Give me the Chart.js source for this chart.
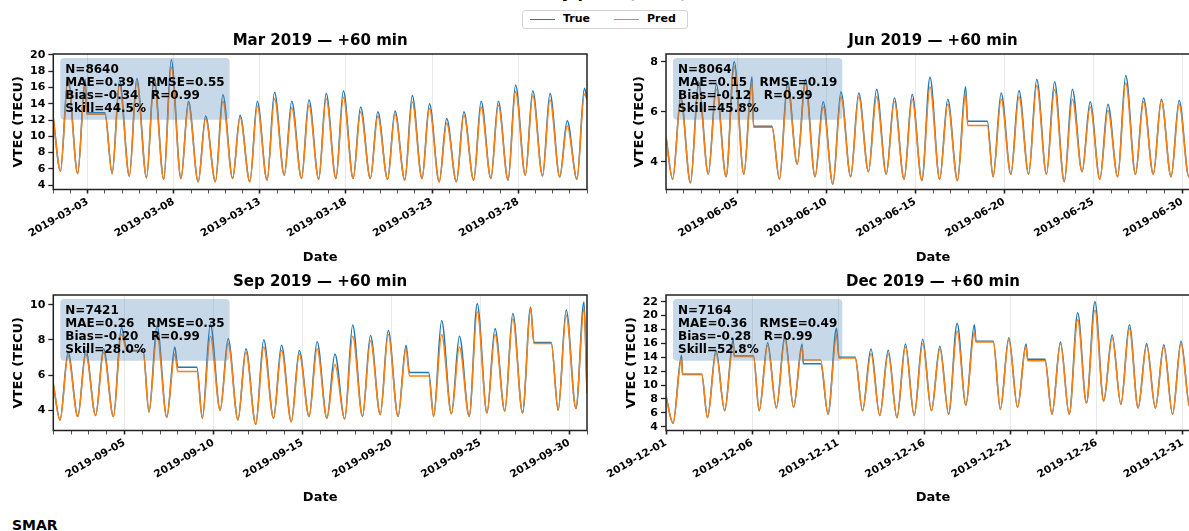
<!DOCTYPE html>
<html lang="en">
<head>
<meta charset="UTF-8">
<title>VTEC monthly plots</title>
<script src="https://cdn.jsdelivr.net/npm/chart.js"></script>
<style>
    html, body { margin: 0; padding: 0; background: #fff; }
    body { width: 1189px; height: 531px; overflow: hidden; position: relative;
           font-family: "DejaVu Sans", sans-serif; font-weight: bold; color: #000; }
    canvas { position: absolute; }
    #suptitle { position: absolute; left: 0; width: 1210px; top: -15px; text-align: center;
                font-size: 16px; line-height: 16px; white-space: nowrap; }
    #legend { position: absolute; left: 522px; top: 10px; width: 164px; height: 17px;
              border: 1px solid #d4d4d4; border-radius: 3px; background: #fff; font-size: 11px; }
    #legend span { position: absolute; top: 1px; }
    #legend i { position: absolute; top: 8px; width: 25px; height: 0; border-top: 1.6px solid; }
    #station { position: absolute; left: 12px; top: 518px; font-size: 14px; line-height: 14px; }
</style>
</head>
<body>
<div id="suptitle">VTEC forecast — Monthly plots (2019) — Horizon +60 min</div>
<div id="legend">
    <i style="left:7px;border-color:#1f77b4"></i><span style="left:40px">True</span>
    <i style="left:91px;border-color:#ff7f0e"></i><span style="left:124px">Pred</span>
</div>
<canvas id="cMar" width="600" height="241" style="left:0;top:28px"></canvas>
<canvas id="cJun" width="613" height="241" style="left:600px;top:28px"></canvas>
<canvas id="cSep" width="600" height="241" style="left:0;top:269px"></canvas>
<canvas id="cDec" width="613" height="241" style="left:600px;top:269px"></canvas>
<div id="station">SMAR</div>

<script>
    // ---- Mars 2019 : creux / pics journaliers (TECU) ----
    const marTrough   = [5.7, 5.4, null, 5.4, 5.1, 4.9, 4.7, 4.8, 4.4, 4.4, 4.8, 4.4, 4.6, 5.2, 4.8, 4.7, 4.8, 4.8, 4.8, 4.7, 4.6, 4.8, 4.4, 4.4, 4.6, 4.8, 4.6, 5.2, 5.1, 5.0, 4.7];
    const marPeakTrue = [17.3, 17.0, null, 16.9, 17.1, 17.3, 19.4, 14.3, 12.5, 15.1, 12.6, 14.3, 15.4, 14.3, 14.5, 15.3, 15.6, 13.6, 13.0, 13.1, 15.0, 14.0, 12.2, 13.0, 14.3, 14.3, 16.3, 15.6, 15.3, 11.9, 15.9];
    const marPeakPred = [16.8, 16.5, null, 16.3, 16.6, 16.7, 18.5, 14.0, 12.2, 14.3, 12.3, 13.7, 14.6, 13.5, 13.8, 14.6, 14.8, 13.0, 12.5, 12.7, 14.2, 13.4, 11.6, 12.6, 13.6, 13.8, 15.5, 15.0, 14.5, 11.3, 15.2];
    const marFlats = [[1.95, 3.0, 12.9, 12.7]];       // [debut, fin, true, pred]
    const marEnds = [12.2, 14.5];                     // valeur au debut / a la fin
    const marYTicks = [4, 6, 8, 10, 12, 14, 16, 18, 20];
    const marXTickDays = [2, 7, 12, 17, 22, 27];
    const marXTickLabels = ['2019-03-03', '2019-03-08', '2019-03-13', '2019-03-18', '2019-03-23', '2019-03-28'];
    const marStats = ['N=8640', 'MAE=0.39   RMSE=0.55', 'Bias=-0.34   R=0.99', 'Skill=44.5%'];

    // ---- Juin 2019 ----
    const junTrough   = [3.3, 3.15, 3.5, 3.4, 3.5, null, 3.3, 3.9, 3.4, 3.1, 3.4, 3.6, 3.5, 3.3, 3.25, 3.3, 3.25, null, 3.4, 3.5, 3.5, 3.5, 3.2, 3.6, 3.3, 3.4, 3.5, 3.5, 3.4, 3.4];
    const junPeakTrue = [6.6, 7.2, 7.1, 8.0, 7.4, null, 7.2, 7.3, 6.4, 6.8, 6.75, 6.9, 6.55, 6.7, 7.38, 6.5, 7.0, null, 6.75, 6.85, 7.3, 7.2, 6.9, 6.4, 6.3, 7.45, 6.55, 6.5, 6.45, 6.5];
    const junPeakPred = [6.5, 7.0, 6.9, 7.8, 7.2, null, 7.0, 7.1, 6.2, 6.6, 6.6, 6.6, 6.4, 6.5, 7.0, 6.3, 6.7, null, 6.5, 6.6, 7.05, 6.9, 6.5, 6.2, 6.05, 7.15, 6.4, 6.45, 6.3, 6.3];
    const junFlats = [[4.92, 5.95, 5.42, 5.38], [16.95, 18.05, 5.62, 5.45]];
    const junEnds = [5.0, 4.4];
    const junYTicks = [4, 6, 8];
    const junXTickDays = [4, 9, 14, 19, 24, 29];
    const junXTickLabels = ['2019-06-05', '2019-06-10', '2019-06-15', '2019-06-20', '2019-06-25', '2019-06-30'];
    const junStats = ['N=8064', 'MAE=0.15   RMSE=0.19', 'Bias=-0.12   R=0.99', 'Skill=45.8%'];

    // ---- Septembre 2019 ----
    const sepTrough   = [3.45, 3.64, 3.7, 3.64, null, 3.9, 3.6, null, 3.55, 4.0, 3.45, 3.2, 3.55, 3.35, 3.65, 3.55, 3.5, 3.65, 3.75, 3.65, null, 3.65, 3.8, 3.65, 3.85, 3.95, 3.85, null, 4.0, 4.1];
    const sepPeakTrue = [7.3, 7.4, 7.5, 8.7, null, 8.8, 7.6, null, 8.9, 8.07, 7.5, 8.0, 7.7, 7.4, 7.9, 7.2, 8.85, 8.25, 8.55, 7.7, null, 9.1, 8.2, 10.05, 8.65, 9.5, 9.85, null, 9.7, 10.15];
    const sepPeakPred = [7.1, 7.2, 7.3, 8.3, null, 8.3, 7.2, null, 8.2, 7.8, 7.3, 7.6, 7.4, 7.2, 7.5, 6.6, 8.2, 7.95, 8.3, 7.5, null, 8.3, 7.6, 9.6, 8.3, 9.2, 9.8, null, 9.4, 9.8];
    const sepFlats = [[4.15, 5.05, 7.4, 7.35], [7.0, 8.07, 6.45, 6.2], [20.02, 21.1, 6.15, 5.95], [27.02, 27.99, 7.85, 7.8]];
    const sepEnds = [5.5, 5.0];
    const sepYTicks = [4, 6, 8, 10];
    const sepXTickDays = [4, 9, 14, 19, 24, 29];
    const sepXTickLabels = ['2019-09-05', '2019-09-10', '2019-09-15', '2019-09-20', '2019-09-25', '2019-09-30'];
    const sepStats = ['N=7421', 'MAE=0.26   RMSE=0.35', 'Bias=-0.20   R=0.99', 'Skill=28.0%'];

    // ---- Decembre 2019 ----
    const decTrough   = [4.5, null, 5.3, 6.3, null, 6.3, 6.7, 6.8, null, 5.8, null, 6.3, 5.6, 5.3, 5.6, 6.3, 5.8, 7.1, null, 6.5, 6.8, null, 5.8, 5.8, 7.4, 7.7, 7.2, 6.7, 6.7, 5.8, 6.8];
    const decPeakTrue = [14.3, null, 15.0, 16.6, null, 16.1, 17.1, 15.9, null, 18.2, null, 15.2, 15.0, 15.9, 16.6, 15.6, 18.9, 18.7, null, 16.8, 15.9, null, 16.2, 20.4, 22.0, 17.2, 18.7, 16.0, 15.8, 16.3, 15.0];
    const decPeakPred = [13.8, null, 14.6, 16.0, null, 15.7, 16.6, 15.5, null, 17.2, null, 14.5, 14.5, 15.5, 16.0, 15.2, 17.8, 17.6, null, 16.5, 15.6, null, 16.0, 19.4, 20.8, 16.8, 18.1, 15.7, 15.5, 16.0, 14.7];
    const decFlats = [[0.96, 2.07, 11.5, 11.6], [3.96, 5.08, 14.2, 14.1], [7.97, 8.98, 13.05, 13.6], [10.04, 10.98, 14.0, 13.9], [18.0, 19.0, 16.3, 16.2], [21.0, 22.0, 13.7, 13.5]];
    const decEnds = [8.4, 10.0];
    const decYTicks = [4, 6, 8, 10, 12, 14, 16, 18, 20, 22];
    const decXTickDays = [0, 5, 10, 15, 20, 25, 30];
    const decXTickLabels = ['2019-12-01', '2019-12-06', '2019-12-11', '2019-12-16', '2019-12-21', '2019-12-26', '2019-12-31'];
    const decStats = ['N=7164', 'MAE=0.36   RMSE=0.49', 'Bias=-0.28   R=0.99', 'Skill=52.8%'];

    const FONT = '"DejaVu Sans", sans-serif';

    // points (jours depuis le debut du mois) a partir des creux/pics du jour
    function buildSeries(nDays, tHour, pHour, troughs, peaks, flats, col, ends) {
        const pts = [{ x: 0, y: ends[0] }];
        for (let d = 0; d < troughs.length; d++) {
            if (troughs[d] !== null) pts.push({ x: d + tHour / 24, y: troughs[d] });
            if (peaks[d] !== null) pts.push({ x: d + pHour / 24, y: peaks[d] });
        }
        flats.forEach(f => {
            pts.push({ x: f[0], y: f[col] });
            pts.push({ x: f[1], y: f[col] });
        });
        pts.push({ x: nDays, y: ends[1] });
        return pts.sort((a, b) => a.x - b.x);
    }

    // encadre des statistiques
    const statBox = {
        id: 'statBox',
        afterDatasetsDraw(chart, args, opts) {
            const ctx = chart.ctx, a = chart.chartArea;
            ctx.save();
            ctx.font = 'bold 12px ' + FONT;
            const w = Math.max(...opts.lines.map(t => ctx.measureText(t).width)) + 10;
            const lh = 13.2, h = opts.lines.length * lh + 9;
            const x = a.left + 7, y = a.top + 4;
            ctx.fillStyle = 'rgba(70,130,180,0.3)';
            ctx.beginPath();
            ctx.roundRect(x, y, w, h, 4);
            ctx.fill();
            ctx.fillStyle = '#000';
            ctx.textBaseline = 'alphabetic';
            opts.lines.forEach((t, i) => ctx.fillText(t, x + 5, y + 4 + 10.5 + i * lh));
            ctx.restore();
        }
    };

    // cadre noir autour de la zone de trace
    const frame = {
        id: 'frame',
        afterDraw(chart) {
            const ctx = chart.ctx, a = chart.chartArea;
            ctx.save();
            ctx.strokeStyle = '#222';
            ctx.lineWidth = 1.5;
            ctx.strokeRect(a.left, a.top, a.right - a.left, a.bottom - a.top);
            ctx.restore();
        }
    };

    function makePanel(id, title, nDays, phase, troughs, peakTrue, peakPred, flats, ends,
                       yRange, yTicks, xDays, xLabels, stats, layout) {
        const labelOf = {};
        xDays.forEach((d, i) => { labelOf[d] = xLabels[i]; });
        const isMajor = v => labelOf[v] !== undefined;
        const days = [];
        for (let d = 0; d <= nDays; d++) days.push(d);

        new Chart(document.getElementById(id), {
            type: 'line',
            data: {
                datasets: [
                    {
                        label: 'True', order: 2,
                        data: buildSeries(nDays, phase[0], phase[1], troughs, peakTrue, flats, 2, ends),
                        borderColor: '#1f77b4', borderWidth: 1.5, pointRadius: 0,
                        cubicInterpolationMode: 'monotone'
                    },
                    {
                        label: 'Pred', order: 1,
                        data: buildSeries(nDays, phase[0], phase[1], troughs, peakPred, flats, 3, ends),
                        borderColor: '#ff7f0e', borderWidth: 1.5, pointRadius: 0,
                        cubicInterpolationMode: 'monotone'
                    }
                ]
            },
            options: {
                responsive: false,
                animation: false,
                layout: { padding: { left: 0, top: 0, bottom: 0, right: 13 } },
                plugins: {
                    legend: { display: false },
                    tooltip: { enabled: false },
                    title: {
                        display: true, text: title, fullSize: false, color: '#000',
                        font: { family: FONT, size: 15, weight: 'bold' },
                        padding: { top: 4.5, bottom: 3.5 }
                    },
                    statBox: { lines: stats }
                },
                scales: {
                    x: {
                        type: 'linear', min: 0, max: nDays,
                        afterBuildTicks: s => { s.ticks = days.map(v => ({ value: v })); },
                        afterFit: s => { s.height = 79.5; },
                        border: { display: false },
                        grid: {
                            color: c => isMajor(c.tick.value) ? 'rgba(0,0,0,0.09)' : 'rgba(0,0,0,0)',
                            tickColor: c => isMajor(c.tick.value) ? '#222' : '#555',
                            tickWidth: c => isMajor(c.tick.value) ? 1.6 : 1,
                            tickLength: 4
                        },
                        ticks: {
                            autoSkip: false, minRotation: 30, maxRotation: 30, padding: 2,
                            color: '#000', font: { family: FONT, size: 10.5, weight: 'bold' },
                            callback: v => labelOf[v] || ''
                        },
                        title: {
                            display: true, text: 'Date', color: '#000',
                            font: { family: FONT, size: 13, weight: 'bold' },
                            padding: { top: 0, bottom: layout.datePad }
                        }
                    },
                    y: {
                        min: yRange[0], max: yRange[1],
                        afterBuildTicks: s => { s.ticks = yTicks.map(v => ({ value: v })); },
                        afterFit: s => { s.width = layout.yWidth; },
                        border: { display: false },
                        grid: { drawOnChartArea: false, tickLength: 5, tickColor: '#222', tickWidth: 1.3 },
                        ticks: {
                            autoSkip: false, padding: 3, color: '#000',
                            font: { family: FONT, size: 11, weight: 'bold' }
                        },
                        title: {
                            display: true, text: 'VTEC (TECU)', color: '#000',
                            font: { family: FONT, size: 13, weight: 'bold' },
                            padding: { top: layout.yTitlePad, bottom: 0 }
                        }
                    }
                }
            },
            plugins: [statBox, frame]
        });
    }

    makePanel('cMar', 'Mar 2019 — +60 min', 31, [10, 20.4], marTrough, marPeakTrue, marPeakPred, marFlats, marEnds,
              [3.45, 20.12], marYTicks, marXTickDays, marXTickLabels, marStats, { yWidth: 53.3, yTitlePad: 11, datePad: 3.5 });
    makePanel('cJun', 'Jun 2019 — +60 min', 30, [9, 19.9], junTrough, junPeakTrue, junPeakPred, junFlats, junEnds,
              [2.89, 8.31], junYTicks, junXTickDays, junXTickLabels, junStats, { yWidth: 66, yTitlePad: 32, datePad: 3.5 });
    makePanel('cSep', 'Sep 2019 — +60 min', 30, [9.1, 19.9], sepTrough, sepPeakTrue, sepPeakPred, sepFlats, sepEnds,
              [2.85, 10.55], sepYTicks, sepXTickDays, sepXTickLabels, sepStats, { yWidth: 53.3, yTitlePad: 11, datePad: 4.5 });
    makePanel('cDec', 'Dec 2019 — +60 min', 31, [9.8, 21.6], decTrough, decPeakTrue, decPeakPred, decFlats, decEnds,
              [3.45, 22.97], decYTicks, decXTickDays, decXTickLabels, decStats, { yWidth: 66, yTitlePad: 24, datePad: 4.5 });
</script>
</body>
</html>
